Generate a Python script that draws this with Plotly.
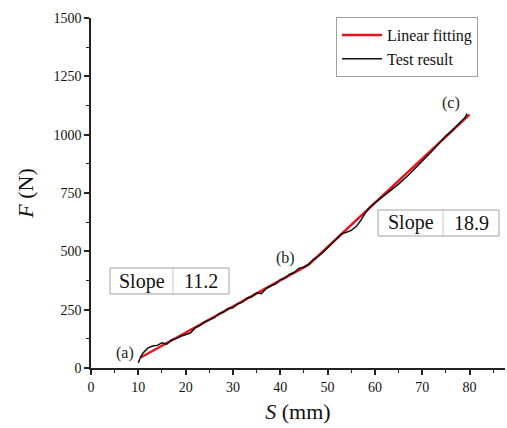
import plotly.graph_objects as go

# Linear fitting (piecewise)
fit_x = [10.5, 46, 80]
fit_y = [45, 443, 1086]

# Test result
test_x = [10, 10.5, 11, 12, 13, 14, 15, 16, 17, 18, 19, 20, 21, 22, 23, 24, 25, 26, 27, 28, 29,
          30, 31, 32, 33, 34, 35, 36, 37, 38, 39, 40, 41, 42, 43, 44, 45, 46, 47, 48, 49,
          50, 51, 52, 53, 54, 55, 56, 57, 58, 59, 60, 61, 62, 63, 64, 65, 66, 67, 68, 69,
          70, 71, 72, 73, 74, 75, 76, 77, 78, 79, 79.5]
test_y = [22, 48, 64, 85, 94, 97, 108, 102, 120, 126, 136, 143, 150, 172, 182, 198, 205, 215, 232, 240, 255,
          258, 275, 282, 300, 305, 322, 318, 340, 352, 360, 378, 385, 402, 410, 428, 432, 445, 465, 478, 495,
          515, 535, 556, 575, 582, 590, 605, 632, 665, 690, 708, 725, 742, 758, 772, 788, 805, 825, 845, 865,
          885, 905, 928, 950, 972, 995, 1012, 1032, 1052, 1072, 1090]

point_labels = ["(a)", "(b)", "(c)"]
label_x = [7.2, 41.2, 76]
label_y = [64, 471, 1136]

slope_values = ["11.2", "18.9"]

FONT = "Times New Roman, Liberation Serif, serif"

fig = go.Figure()
fig.add_trace(go.Scatter(x=fit_x, y=fit_y, mode="lines", name="Linear fitting",
                         line=dict(color="#e8141b", width=2.5)))
fig.add_trace(go.Scatter(x=test_x, y=test_y, mode="lines", name="Test result",
                         line=dict(color="#111111", width=1.5)))

for t, x, y in zip(point_labels, label_x, label_y):
    fig.add_annotation(x=x, y=y, text=t, showarrow=False, xanchor="center", yanchor="middle",
                       font=dict(family=FONT, size=16, color="#222"))

# Slope boxes (pixel-based in paper coords)
W, H = 507, 428
L, R, T, B = 91, 2, 18, 60
pw, ph = W - L - R, H - T - B

def px(xp):
    return (xp - L) / pw

def py(yp):
    return (H - B - yp) / ph

boxes = [(110, 173, 229, 268, 294), (378, 443, 499, 210, 236)]
for (x0, xm, x1, y0, y1), val in zip(boxes, slope_values):
    fig.add_shape(type="rect", xref="paper", yref="paper", x0=px(x0), x1=px(x1), y0=py(y1), y1=py(y0),
                  line=dict(color="#a0a0a0", width=1), fillcolor="white", layer="above")
    fig.add_shape(type="line", xref="paper", yref="paper", x0=px(xm), x1=px(xm), y0=py(y1), y1=py(y0),
                  line=dict(color="#c8c8c8", width=1), layer="above")
    fig.add_annotation(xref="paper", yref="paper", x=px((x0 + xm) / 2), y=py((y0 + y1) / 2), text="Slope",
                       showarrow=False, xanchor="center", yanchor="middle",
                       font=dict(family=FONT, size=20, color="#111"))
    fig.add_annotation(xref="paper", yref="paper", x=px((xm + x1) / 2), y=py((y0 + y1) / 2), text=val,
                       showarrow=False, xanchor="center", yanchor="middle",
                       font=dict(family=FONT, size=20, color="#111"))

tick_font = dict(family=FONT, size=14, color="#111")
axis_common = dict(showline=True, linecolor="#222", linewidth=1.5, ticks="outside", ticklen=5,
                   tickwidth=1.5, tickcolor="#222", showgrid=False, zeroline=False,
                   tickfont=tick_font, mirror=False)

fig.update_xaxes(range=[0, 87.5], dtick=10, tick0=0,
                 minor=dict(dtick=5, ticks="outside", ticklen=3, tickwidth=1.2, tickcolor="#222"),
                 title=dict(text="<i>S</i> (mm)", font=dict(family=FONT, size=22, color="#111"), standoff=10),
                 **axis_common)
fig.update_yaxes(range=[0, 1500], dtick=250, tick0=0,
                 minor=dict(dtick=125, ticks="outside", ticklen=3, tickwidth=1.2, tickcolor="#222"),
                 title=dict(text="<i>F</i> (N)", font=dict(family=FONT, size=22, color="#111"), standoff=14),
                 **axis_common)

fig.update_layout(width=W, height=H, margin=dict(l=L, r=R, t=T, b=B),
                  font=dict(family=FONT, color="#222"),
                  plot_bgcolor="white", paper_bgcolor="white",
                  legend=dict(x=px(336), y=py(17), xanchor="left", yanchor="top",
                              bordercolor="#a0a0a0", borderwidth=1, bgcolor="white",
                              font=dict(family=FONT, size=16, color="#111"),
                              tracegroupgap=0, itemwidth=40),
                  showlegend=True)

fig.write_html("out.html")
